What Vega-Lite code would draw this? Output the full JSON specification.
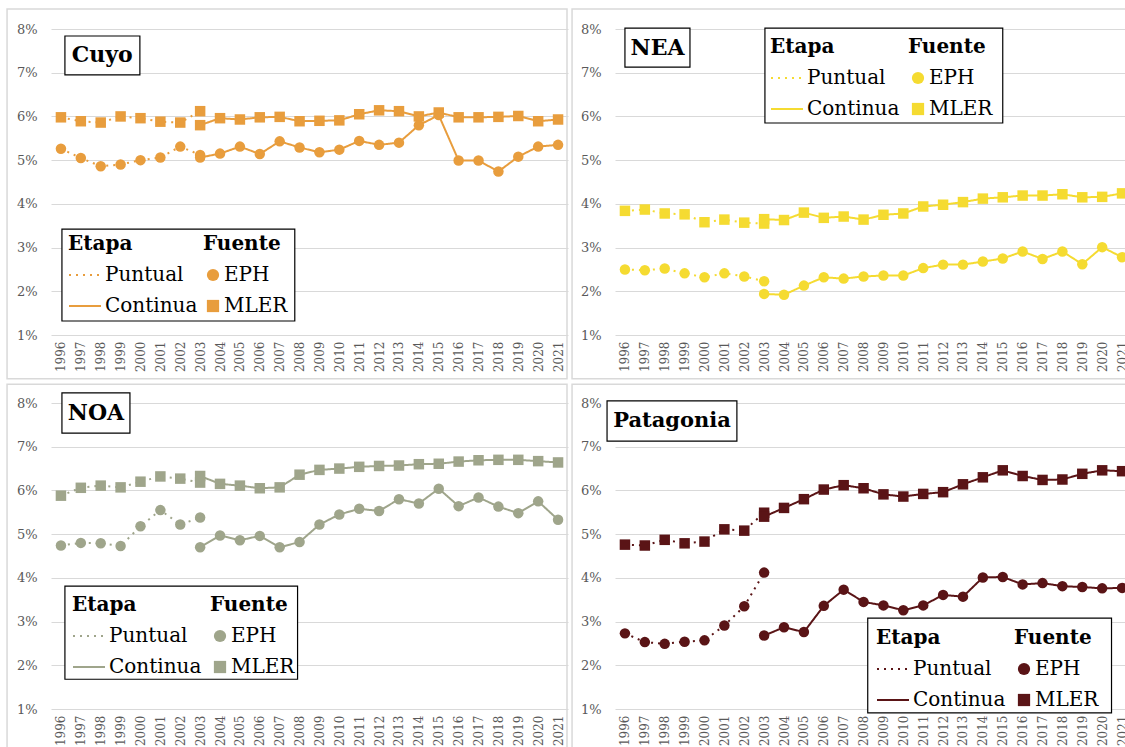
{
"$schema": "https://vega.github.io/schema/vega-lite/v6.json",
"background": "white",
"padding": {"left": 6, "top": 8, "right": 0, "bottom": 0},
"datasets": {"d": [
{"region":"Cuyo","fuente":"MLER","etapa":"Puntual","year":1996,"value":5.98},
{"region":"Cuyo","fuente":"MLER","etapa":"Puntual","year":1997,"value":5.89},
{"region":"Cuyo","fuente":"MLER","etapa":"Puntual","year":1998,"value":5.86},
{"region":"Cuyo","fuente":"MLER","etapa":"Puntual","year":1999,"value":6.00},
{"region":"Cuyo","fuente":"MLER","etapa":"Puntual","year":2000,"value":5.96},
{"region":"Cuyo","fuente":"MLER","etapa":"Puntual","year":2001,"value":5.88},
{"region":"Cuyo","fuente":"MLER","etapa":"Puntual","year":2002,"value":5.86},
{"region":"Cuyo","fuente":"MLER","etapa":"Puntual","year":2003,"value":6.12},
{"region":"Cuyo","fuente":"MLER","etapa":"Continua","year":2003,"value":5.80},
{"region":"Cuyo","fuente":"MLER","etapa":"Continua","year":2004,"value":5.96},
{"region":"Cuyo","fuente":"MLER","etapa":"Continua","year":2005,"value":5.93},
{"region":"Cuyo","fuente":"MLER","etapa":"Continua","year":2006,"value":5.98},
{"region":"Cuyo","fuente":"MLER","etapa":"Continua","year":2007,"value":5.99},
{"region":"Cuyo","fuente":"MLER","etapa":"Continua","year":2008,"value":5.89},
{"region":"Cuyo","fuente":"MLER","etapa":"Continua","year":2009,"value":5.90},
{"region":"Cuyo","fuente":"MLER","etapa":"Continua","year":2010,"value":5.91},
{"region":"Cuyo","fuente":"MLER","etapa":"Continua","year":2011,"value":6.05},
{"region":"Cuyo","fuente":"MLER","etapa":"Continua","year":2012,"value":6.14},
{"region":"Cuyo","fuente":"MLER","etapa":"Continua","year":2013,"value":6.12},
{"region":"Cuyo","fuente":"MLER","etapa":"Continua","year":2014,"value":6.00},
{"region":"Cuyo","fuente":"MLER","etapa":"Continua","year":2015,"value":6.09},
{"region":"Cuyo","fuente":"MLER","etapa":"Continua","year":2016,"value":5.98},
{"region":"Cuyo","fuente":"MLER","etapa":"Continua","year":2017,"value":5.98},
{"region":"Cuyo","fuente":"MLER","etapa":"Continua","year":2018,"value":5.99},
{"region":"Cuyo","fuente":"MLER","etapa":"Continua","year":2019,"value":6.01},
{"region":"Cuyo","fuente":"MLER","etapa":"Continua","year":2020,"value":5.89},
{"region":"Cuyo","fuente":"MLER","etapa":"Continua","year":2021,"value":5.93},
{"region":"Cuyo","fuente":"EPH","etapa":"Puntual","year":1996,"value":5.26},
{"region":"Cuyo","fuente":"EPH","etapa":"Puntual","year":1997,"value":5.05},
{"region":"Cuyo","fuente":"EPH","etapa":"Puntual","year":1998,"value":4.86},
{"region":"Cuyo","fuente":"EPH","etapa":"Puntual","year":1999,"value":4.90},
{"region":"Cuyo","fuente":"EPH","etapa":"Puntual","year":2000,"value":5.00},
{"region":"Cuyo","fuente":"EPH","etapa":"Puntual","year":2001,"value":5.06},
{"region":"Cuyo","fuente":"EPH","etapa":"Puntual","year":2002,"value":5.31},
{"region":"Cuyo","fuente":"EPH","etapa":"Puntual","year":2003,"value":5.12},
{"region":"Cuyo","fuente":"EPH","etapa":"Continua","year":2003,"value":5.06},
{"region":"Cuyo","fuente":"EPH","etapa":"Continua","year":2004,"value":5.15},
{"region":"Cuyo","fuente":"EPH","etapa":"Continua","year":2005,"value":5.31},
{"region":"Cuyo","fuente":"EPH","etapa":"Continua","year":2006,"value":5.14},
{"region":"Cuyo","fuente":"EPH","etapa":"Continua","year":2007,"value":5.43},
{"region":"Cuyo","fuente":"EPH","etapa":"Continua","year":2008,"value":5.29},
{"region":"Cuyo","fuente":"EPH","etapa":"Continua","year":2009,"value":5.18},
{"region":"Cuyo","fuente":"EPH","etapa":"Continua","year":2010,"value":5.24},
{"region":"Cuyo","fuente":"EPH","etapa":"Continua","year":2011,"value":5.44},
{"region":"Cuyo","fuente":"EPH","etapa":"Continua","year":2012,"value":5.35},
{"region":"Cuyo","fuente":"EPH","etapa":"Continua","year":2013,"value":5.40},
{"region":"Cuyo","fuente":"EPH","etapa":"Continua","year":2014,"value":5.80},
{"region":"Cuyo","fuente":"EPH","etapa":"Continua","year":2015,"value":6.03},
{"region":"Cuyo","fuente":"EPH","etapa":"Continua","year":2016,"value":4.99},
{"region":"Cuyo","fuente":"EPH","etapa":"Continua","year":2017,"value":4.99},
{"region":"Cuyo","fuente":"EPH","etapa":"Continua","year":2018,"value":4.74},
{"region":"Cuyo","fuente":"EPH","etapa":"Continua","year":2019,"value":5.08},
{"region":"Cuyo","fuente":"EPH","etapa":"Continua","year":2020,"value":5.31},
{"region":"Cuyo","fuente":"EPH","etapa":"Continua","year":2021,"value":5.35},
{"region":"NEA","fuente":"MLER","etapa":"Puntual","year":1996,"value":3.84},
{"region":"NEA","fuente":"MLER","etapa":"Puntual","year":1997,"value":3.87},
{"region":"NEA","fuente":"MLER","etapa":"Puntual","year":1998,"value":3.78},
{"region":"NEA","fuente":"MLER","etapa":"Puntual","year":1999,"value":3.76},
{"region":"NEA","fuente":"MLER","etapa":"Puntual","year":2000,"value":3.58},
{"region":"NEA","fuente":"MLER","etapa":"Puntual","year":2001,"value":3.64},
{"region":"NEA","fuente":"MLER","etapa":"Puntual","year":2002,"value":3.57},
{"region":"NEA","fuente":"MLER","etapa":"Puntual","year":2003,"value":3.55},
{"region":"NEA","fuente":"MLER","etapa":"Continua","year":2003,"value":3.65},
{"region":"NEA","fuente":"MLER","etapa":"Continua","year":2004,"value":3.63},
{"region":"NEA","fuente":"MLER","etapa":"Continua","year":2005,"value":3.80},
{"region":"NEA","fuente":"MLER","etapa":"Continua","year":2006,"value":3.68},
{"region":"NEA","fuente":"MLER","etapa":"Continua","year":2007,"value":3.71},
{"region":"NEA","fuente":"MLER","etapa":"Continua","year":2008,"value":3.64},
{"region":"NEA","fuente":"MLER","etapa":"Continua","year":2009,"value":3.75},
{"region":"NEA","fuente":"MLER","etapa":"Continua","year":2010,"value":3.78},
{"region":"NEA","fuente":"MLER","etapa":"Continua","year":2011,"value":3.94},
{"region":"NEA","fuente":"MLER","etapa":"Continua","year":2012,"value":3.98},
{"region":"NEA","fuente":"MLER","etapa":"Continua","year":2013,"value":4.04},
{"region":"NEA","fuente":"MLER","etapa":"Continua","year":2014,"value":4.12},
{"region":"NEA","fuente":"MLER","etapa":"Continua","year":2015,"value":4.15},
{"region":"NEA","fuente":"MLER","etapa":"Continua","year":2016,"value":4.19},
{"region":"NEA","fuente":"MLER","etapa":"Continua","year":2017,"value":4.19},
{"region":"NEA","fuente":"MLER","etapa":"Continua","year":2018,"value":4.22},
{"region":"NEA","fuente":"MLER","etapa":"Continua","year":2019,"value":4.15},
{"region":"NEA","fuente":"MLER","etapa":"Continua","year":2020,"value":4.16},
{"region":"NEA","fuente":"MLER","etapa":"Continua","year":2021,"value":4.24},
{"region":"NEA","fuente":"EPH","etapa":"Puntual","year":1996,"value":2.50},
{"region":"NEA","fuente":"EPH","etapa":"Puntual","year":1997,"value":2.48},
{"region":"NEA","fuente":"EPH","etapa":"Puntual","year":1998,"value":2.52},
{"region":"NEA","fuente":"EPH","etapa":"Puntual","year":1999,"value":2.41},
{"region":"NEA","fuente":"EPH","etapa":"Puntual","year":2000,"value":2.32},
{"region":"NEA","fuente":"EPH","etapa":"Puntual","year":2001,"value":2.41},
{"region":"NEA","fuente":"EPH","etapa":"Puntual","year":2002,"value":2.34},
{"region":"NEA","fuente":"EPH","etapa":"Puntual","year":2003,"value":2.23},
{"region":"NEA","fuente":"EPH","etapa":"Continua","year":2003,"value":1.94},
{"region":"NEA","fuente":"EPH","etapa":"Continua","year":2004,"value":1.92},
{"region":"NEA","fuente":"EPH","etapa":"Continua","year":2005,"value":2.13},
{"region":"NEA","fuente":"EPH","etapa":"Continua","year":2006,"value":2.32},
{"region":"NEA","fuente":"EPH","etapa":"Continua","year":2007,"value":2.29},
{"region":"NEA","fuente":"EPH","etapa":"Continua","year":2008,"value":2.34},
{"region":"NEA","fuente":"EPH","etapa":"Continua","year":2009,"value":2.36},
{"region":"NEA","fuente":"EPH","etapa":"Continua","year":2010,"value":2.36},
{"region":"NEA","fuente":"EPH","etapa":"Continua","year":2011,"value":2.53},
{"region":"NEA","fuente":"EPH","etapa":"Continua","year":2012,"value":2.61},
{"region":"NEA","fuente":"EPH","etapa":"Continua","year":2013,"value":2.61},
{"region":"NEA","fuente":"EPH","etapa":"Continua","year":2014,"value":2.68},
{"region":"NEA","fuente":"EPH","etapa":"Continua","year":2015,"value":2.75},
{"region":"NEA","fuente":"EPH","etapa":"Continua","year":2016,"value":2.91},
{"region":"NEA","fuente":"EPH","etapa":"Continua","year":2017,"value":2.74},
{"region":"NEA","fuente":"EPH","etapa":"Continua","year":2018,"value":2.91},
{"region":"NEA","fuente":"EPH","etapa":"Continua","year":2019,"value":2.62},
{"region":"NEA","fuente":"EPH","etapa":"Continua","year":2020,"value":3.01},
{"region":"NEA","fuente":"EPH","etapa":"Continua","year":2021,"value":2.78},
{"region":"NOA","fuente":"MLER","etapa":"Puntual","year":1996,"value":5.88},
{"region":"NOA","fuente":"MLER","etapa":"Puntual","year":1997,"value":6.06},
{"region":"NOA","fuente":"MLER","etapa":"Puntual","year":1998,"value":6.11},
{"region":"NOA","fuente":"MLER","etapa":"Puntual","year":1999,"value":6.07},
{"region":"NOA","fuente":"MLER","etapa":"Puntual","year":2000,"value":6.20},
{"region":"NOA","fuente":"MLER","etapa":"Puntual","year":2001,"value":6.32},
{"region":"NOA","fuente":"MLER","etapa":"Puntual","year":2002,"value":6.27},
{"region":"NOA","fuente":"MLER","etapa":"Puntual","year":2003,"value":6.18},
{"region":"NOA","fuente":"MLER","etapa":"Continua","year":2003,"value":6.33},
{"region":"NOA","fuente":"MLER","etapa":"Continua","year":2004,"value":6.15},
{"region":"NOA","fuente":"MLER","etapa":"Continua","year":2005,"value":6.11},
{"region":"NOA","fuente":"MLER","etapa":"Continua","year":2006,"value":6.05},
{"region":"NOA","fuente":"MLER","etapa":"Continua","year":2007,"value":6.07},
{"region":"NOA","fuente":"MLER","etapa":"Continua","year":2008,"value":6.36},
{"region":"NOA","fuente":"MLER","etapa":"Continua","year":2009,"value":6.47},
{"region":"NOA","fuente":"MLER","etapa":"Continua","year":2010,"value":6.50},
{"region":"NOA","fuente":"MLER","etapa":"Continua","year":2011,"value":6.54},
{"region":"NOA","fuente":"MLER","etapa":"Continua","year":2012,"value":6.56},
{"region":"NOA","fuente":"MLER","etapa":"Continua","year":2013,"value":6.57},
{"region":"NOA","fuente":"MLER","etapa":"Continua","year":2014,"value":6.60},
{"region":"NOA","fuente":"MLER","etapa":"Continua","year":2015,"value":6.61},
{"region":"NOA","fuente":"MLER","etapa":"Continua","year":2016,"value":6.66},
{"region":"NOA","fuente":"MLER","etapa":"Continua","year":2017,"value":6.69},
{"region":"NOA","fuente":"MLER","etapa":"Continua","year":2018,"value":6.70},
{"region":"NOA","fuente":"MLER","etapa":"Continua","year":2019,"value":6.70},
{"region":"NOA","fuente":"MLER","etapa":"Continua","year":2020,"value":6.67},
{"region":"NOA","fuente":"MLER","etapa":"Continua","year":2021,"value":6.64},
{"region":"NOA","fuente":"EPH","etapa":"Puntual","year":1996,"value":4.74},
{"region":"NOA","fuente":"EPH","etapa":"Puntual","year":1997,"value":4.80},
{"region":"NOA","fuente":"EPH","etapa":"Puntual","year":1998,"value":4.79},
{"region":"NOA","fuente":"EPH","etapa":"Puntual","year":1999,"value":4.73},
{"region":"NOA","fuente":"EPH","etapa":"Puntual","year":2000,"value":5.18},
{"region":"NOA","fuente":"EPH","etapa":"Puntual","year":2001,"value":5.55},
{"region":"NOA","fuente":"EPH","etapa":"Puntual","year":2002,"value":5.22},
{"region":"NOA","fuente":"EPH","etapa":"Puntual","year":2003,"value":5.38},
{"region":"NOA","fuente":"EPH","etapa":"Continua","year":2003,"value":4.70},
{"region":"NOA","fuente":"EPH","etapa":"Continua","year":2004,"value":4.97},
{"region":"NOA","fuente":"EPH","etapa":"Continua","year":2005,"value":4.86},
{"region":"NOA","fuente":"EPH","etapa":"Continua","year":2006,"value":4.96},
{"region":"NOA","fuente":"EPH","etapa":"Continua","year":2007,"value":4.70},
{"region":"NOA","fuente":"EPH","etapa":"Continua","year":2008,"value":4.82},
{"region":"NOA","fuente":"EPH","etapa":"Continua","year":2009,"value":5.22},
{"region":"NOA","fuente":"EPH","etapa":"Continua","year":2010,"value":5.45},
{"region":"NOA","fuente":"EPH","etapa":"Continua","year":2011,"value":5.58},
{"region":"NOA","fuente":"EPH","etapa":"Continua","year":2012,"value":5.53},
{"region":"NOA","fuente":"EPH","etapa":"Continua","year":2013,"value":5.80},
{"region":"NOA","fuente":"EPH","etapa":"Continua","year":2014,"value":5.70},
{"region":"NOA","fuente":"EPH","etapa":"Continua","year":2015,"value":6.04},
{"region":"NOA","fuente":"EPH","etapa":"Continua","year":2016,"value":5.64},
{"region":"NOA","fuente":"EPH","etapa":"Continua","year":2017,"value":5.84},
{"region":"NOA","fuente":"EPH","etapa":"Continua","year":2018,"value":5.63},
{"region":"NOA","fuente":"EPH","etapa":"Continua","year":2019,"value":5.48},
{"region":"NOA","fuente":"EPH","etapa":"Continua","year":2020,"value":5.75},
{"region":"NOA","fuente":"EPH","etapa":"Continua","year":2021,"value":5.33},
{"region":"Patagonia","fuente":"MLER","etapa":"Puntual","year":1996,"value":4.76},
{"region":"Patagonia","fuente":"MLER","etapa":"Puntual","year":1997,"value":4.74},
{"region":"Patagonia","fuente":"MLER","etapa":"Puntual","year":1998,"value":4.87},
{"region":"Patagonia","fuente":"MLER","etapa":"Puntual","year":1999,"value":4.79},
{"region":"Patagonia","fuente":"MLER","etapa":"Puntual","year":2000,"value":4.83},
{"region":"Patagonia","fuente":"MLER","etapa":"Puntual","year":2001,"value":5.11},
{"region":"Patagonia","fuente":"MLER","etapa":"Puntual","year":2002,"value":5.08},
{"region":"Patagonia","fuente":"MLER","etapa":"Puntual","year":2003,"value":5.49},
{"region":"Patagonia","fuente":"MLER","etapa":"Continua","year":2003,"value":5.40},
{"region":"Patagonia","fuente":"MLER","etapa":"Continua","year":2004,"value":5.60},
{"region":"Patagonia","fuente":"MLER","etapa":"Continua","year":2005,"value":5.80},
{"region":"Patagonia","fuente":"MLER","etapa":"Continua","year":2006,"value":6.02},
{"region":"Patagonia","fuente":"MLER","etapa":"Continua","year":2007,"value":6.12},
{"region":"Patagonia","fuente":"MLER","etapa":"Continua","year":2008,"value":6.05},
{"region":"Patagonia","fuente":"MLER","etapa":"Continua","year":2009,"value":5.91},
{"region":"Patagonia","fuente":"MLER","etapa":"Continua","year":2010,"value":5.86},
{"region":"Patagonia","fuente":"MLER","etapa":"Continua","year":2011,"value":5.92},
{"region":"Patagonia","fuente":"MLER","etapa":"Continua","year":2012,"value":5.96},
{"region":"Patagonia","fuente":"MLER","etapa":"Continua","year":2013,"value":6.14},
{"region":"Patagonia","fuente":"MLER","etapa":"Continua","year":2014,"value":6.30},
{"region":"Patagonia","fuente":"MLER","etapa":"Continua","year":2015,"value":6.46},
{"region":"Patagonia","fuente":"MLER","etapa":"Continua","year":2016,"value":6.33},
{"region":"Patagonia","fuente":"MLER","etapa":"Continua","year":2017,"value":6.24},
{"region":"Patagonia","fuente":"MLER","etapa":"Continua","year":2018,"value":6.25},
{"region":"Patagonia","fuente":"MLER","etapa":"Continua","year":2019,"value":6.38},
{"region":"Patagonia","fuente":"MLER","etapa":"Continua","year":2020,"value":6.46},
{"region":"Patagonia","fuente":"MLER","etapa":"Continua","year":2021,"value":6.44},
{"region":"Patagonia","fuente":"EPH","etapa":"Puntual","year":1996,"value":2.73},
{"region":"Patagonia","fuente":"EPH","etapa":"Puntual","year":1997,"value":2.53},
{"region":"Patagonia","fuente":"EPH","etapa":"Puntual","year":1998,"value":2.49},
{"region":"Patagonia","fuente":"EPH","etapa":"Puntual","year":1999,"value":2.54},
{"region":"Patagonia","fuente":"EPH","etapa":"Puntual","year":2000,"value":2.57},
{"region":"Patagonia","fuente":"EPH","etapa":"Puntual","year":2001,"value":2.91},
{"region":"Patagonia","fuente":"EPH","etapa":"Puntual","year":2002,"value":3.35},
{"region":"Patagonia","fuente":"EPH","etapa":"Puntual","year":2003,"value":4.12},
{"region":"Patagonia","fuente":"EPH","etapa":"Continua","year":2003,"value":2.68},
{"region":"Patagonia","fuente":"EPH","etapa":"Continua","year":2004,"value":2.87},
{"region":"Patagonia","fuente":"EPH","etapa":"Continua","year":2005,"value":2.76},
{"region":"Patagonia","fuente":"EPH","etapa":"Continua","year":2006,"value":3.36},
{"region":"Patagonia","fuente":"EPH","etapa":"Continua","year":2007,"value":3.73},
{"region":"Patagonia","fuente":"EPH","etapa":"Continua","year":2008,"value":3.45},
{"region":"Patagonia","fuente":"EPH","etapa":"Continua","year":2009,"value":3.37},
{"region":"Patagonia","fuente":"EPH","etapa":"Continua","year":2010,"value":3.26},
{"region":"Patagonia","fuente":"EPH","etapa":"Continua","year":2011,"value":3.37},
{"region":"Patagonia","fuente":"EPH","etapa":"Continua","year":2012,"value":3.61},
{"region":"Patagonia","fuente":"EPH","etapa":"Continua","year":2013,"value":3.57},
{"region":"Patagonia","fuente":"EPH","etapa":"Continua","year":2014,"value":4.01},
{"region":"Patagonia","fuente":"EPH","etapa":"Continua","year":2015,"value":4.02},
{"region":"Patagonia","fuente":"EPH","etapa":"Continua","year":2016,"value":3.85},
{"region":"Patagonia","fuente":"EPH","etapa":"Continua","year":2017,"value":3.88},
{"region":"Patagonia","fuente":"EPH","etapa":"Continua","year":2018,"value":3.81},
{"region":"Patagonia","fuente":"EPH","etapa":"Continua","year":2019,"value":3.79},
{"region":"Patagonia","fuente":"EPH","etapa":"Continua","year":2020,"value":3.76},
{"region":"Patagonia","fuente":"EPH","etapa":"Continua","year":2021,"value":3.77}
]},
"columns": 2,
"bounds": "flush",
"spacing": {"row": 68, "column": 47},
"resolve": {"scale": {"shape": "independent", "strokeDash": "independent"}, "legend": {"shape": "independent", "strokeDash": "independent"}},
"concat": [
{
"width": 517, "height": 306,
"layer": [
{"data": {"values": [{}]}, "mark": {"type": "rect", "fill": null, "stroke": "#d9d9d9", "strokeWidth": 1.5},
 "encoding": {"x": {"datum": 1993.29, "type": "quantitative", "title": null, "scale": {"domain": [1995.5, 2021.5], "nice": false, "zero": false}}, "x2": {"datum": 2021.45}, "y": {"datum": 8.46, "type": "quantitative", "title": null, "scale": {"domain": [1, 8], "nice": false, "zero": false}}, "y2": {"datum": 0.0}}},
{"data": {"values": [{}]}, "mark": {"type": "rect", "fill": "white", "stroke": "black", "strokeWidth": 1.2},
 "encoding": {"x": {"datum": 1996.05, "type": "quantitative", "title": null}, "x2": {"datum": 2007.76}, "y": {"datum": 3.42, "type": "quantitative", "title": null}, "y2": {"datum": 1.32}}},
{"data": {"name": "d"}, "transform": [{"filter": "datum.region === 'Cuyo'"}],
 "layer": [
  {"mark": {"type": "line", "color": "#E89D3D", "strokeWidth": 2},
   "encoding": {
    "x": {"field": "year", "type": "quantitative", "title": null},
    "y": {"field": "value", "type": "quantitative", "title": null},
    "detail": {"field": "fuente"},
    "strokeDash": {"field": "etapa", "type": "nominal", "scale": {"domain": ["Puntual", "Continua"], "range": [[2, 5], [1, 0]]},
      "legend": {"title": "Etapa", "orient": "none", "legendX": 17, "legendY": 205, "symbolType": "stroke", "symbolSize": 1024, "symbolStrokeWidth": 2, "symbolStrokeColor": "#E89D3D", "rowPadding": 4, "titlePadding": 4}}}},
  {"mark": {"type": "point", "filled": true, "color": "#E89D3D", "size": 110, "opacity": 1},
   "encoding": {
    "x": {"field": "year", "type": "quantitative", "title": null},
    "y": {"field": "value", "type": "quantitative", "title": null},
    "shape": {"field": "fuente", "type": "nominal", "scale": {"domain": ["EPH", "MLER"], "range": ["circle", "square"]},
      "legend": {"title": "Fuente", "orient": "none", "legendX": 152, "legendY": 205, "symbolSize": 150, "symbolFillColor": "#E89D3D", "symbolStrokeWidth": 0, "rowPadding": 11, "titlePadding": 11, "labelOffset": 1}}}}
 ]},
{"data": {"values": [{}]}, "mark": {"type": "rect", "fill": "white", "stroke": "black", "strokeWidth": 1.2},
 "encoding": {"x": {"datum": 1996.2, "type": "quantitative", "title": null}, "x2": {"datum": 1999.97}, "y": {"datum": 7.84, "type": "quantitative", "title": null}, "y2": {"datum": 6.95}}},
{"data": {"values": [{}]}, "mark": {"type": "text", "text": "Cuyo", "font": "DejaVu Serif", "fontSize": 22, "fontWeight": "bold", "color": "black", "align": "center", "baseline": "middle"},
 "encoding": {"x": {"datum": 1998.08, "type": "quantitative", "title": null}, "y": {"datum": 7.40, "type": "quantitative", "title": null}}}
]
},
{
"width": 517, "height": 306,
"layer": [
{"data": {"values": [{}]}, "mark": {"type": "rect", "fill": null, "stroke": "#d9d9d9", "strokeWidth": 1.5},
 "encoding": {"x": {"datum": 1993.34, "type": "quantitative", "title": null, "scale": {"domain": [1995.5, 2021.5], "nice": false, "zero": false}}, "x2": {"datum": 2023.0}, "y": {"datum": 8.46, "type": "quantitative", "title": null, "scale": {"domain": [1, 8], "nice": false, "zero": false}}, "y2": {"datum": 0.0}}},
{"data": {"values": [{}]}, "mark": {"type": "rect", "fill": "white", "stroke": "black", "strokeWidth": 1.2},
 "encoding": {"x": {"datum": 2003.04, "type": "quantitative", "title": null}, "x2": {"datum": 2015.0}, "y": {"datum": 8.02, "type": "quantitative", "title": null}, "y2": {"datum": 5.85}}},
{"data": {"name": "d"}, "transform": [{"filter": "datum.region === 'NEA'"}],
 "layer": [
  {"mark": {"type": "line", "color": "#F5DB31", "strokeWidth": 2},
   "encoding": {
    "x": {"field": "year", "type": "quantitative", "title": null},
    "y": {"field": "value", "type": "quantitative", "title": null},
    "detail": {"field": "fuente"},
    "strokeDash": {"field": "etapa", "type": "nominal", "scale": {"domain": ["Puntual", "Continua"], "range": [[2, 5], [1, 0]]},
      "legend": {"title": "Etapa", "orient": "none", "legendX": 155, "legendY": 8, "symbolType": "stroke", "symbolSize": 1024, "symbolStrokeWidth": 2, "symbolStrokeColor": "#F5DB31", "rowPadding": 4, "titlePadding": 4}}}},
  {"mark": {"type": "point", "filled": true, "color": "#F5DB31", "size": 110, "opacity": 1},
   "encoding": {
    "x": {"field": "year", "type": "quantitative", "title": null},
    "y": {"field": "value", "type": "quantitative", "title": null},
    "shape": {"field": "fuente", "type": "nominal", "scale": {"domain": ["EPH", "MLER"], "range": ["circle", "square"]},
      "legend": {"title": "Fuente", "orient": "none", "legendX": 293, "legendY": 8, "symbolSize": 150, "symbolFillColor": "#F5DB31", "symbolStrokeWidth": 0, "rowPadding": 11, "titlePadding": 11, "labelOffset": 1}}}}
 ]},
{"data": {"values": [{}]}, "mark": {"type": "rect", "fill": "white", "stroke": "black", "strokeWidth": 1.2},
 "encoding": {"x": {"datum": 1996.0, "type": "quantitative", "title": null}, "x2": {"datum": 1999.27}, "y": {"datum": 8.02, "type": "quantitative", "title": null}, "y2": {"datum": 7.13}}},
{"data": {"values": [{}]}, "mark": {"type": "text", "text": "NEA", "font": "DejaVu Serif", "fontSize": 22, "fontWeight": "bold", "color": "black", "align": "center", "baseline": "middle"},
 "encoding": {"x": {"datum": 1997.64, "type": "quantitative", "title": null}, "y": {"datum": 7.57, "type": "quantitative", "title": null}}}
]
},
{
"width": 517, "height": 306,
"layer": [
{"data": {"values": [{}]}, "mark": {"type": "rect", "fill": null, "stroke": "#d9d9d9", "strokeWidth": 1.5},
 "encoding": {"x": {"datum": 1993.29, "type": "quantitative", "title": null, "scale": {"domain": [1995.5, 2021.5], "nice": false, "zero": false}}, "x2": {"datum": 2021.45}, "y": {"datum": 8.43, "type": "quantitative", "title": null, "scale": {"domain": [1, 8], "nice": false, "zero": false}}, "y2": {"datum": -0.2}}},
{"data": {"values": [{}]}, "mark": {"type": "rect", "fill": "white", "stroke": "black", "strokeWidth": 1.2},
 "encoding": {"x": {"datum": 1996.2, "type": "quantitative", "title": null}, "x2": {"datum": 2007.9}, "y": {"datum": 3.81, "type": "quantitative", "title": null}, "y2": {"datum": 1.68}}},
{"data": {"name": "d"}, "transform": [{"filter": "datum.region === 'NOA'"}],
 "layer": [
  {"mark": {"type": "line", "color": "#9FA58B", "strokeWidth": 2},
   "encoding": {
    "x": {"field": "year", "type": "quantitative", "title": null},
    "y": {"field": "value", "type": "quantitative", "title": null},
    "detail": {"field": "fuente"},
    "strokeDash": {"field": "etapa", "type": "nominal", "scale": {"domain": ["Puntual", "Continua"], "range": [[2, 5], [1, 0]]},
      "legend": {"title": "Etapa", "orient": "none", "legendX": 21, "legendY": 192, "symbolType": "stroke", "symbolSize": 1024, "symbolStrokeWidth": 2, "symbolStrokeColor": "#9FA58B", "rowPadding": 4, "titlePadding": 4}}}},
  {"mark": {"type": "point", "filled": true, "color": "#9FA58B", "size": 110, "opacity": 1},
   "encoding": {
    "x": {"field": "year", "type": "quantitative", "title": null},
    "y": {"field": "value", "type": "quantitative", "title": null},
    "shape": {"field": "fuente", "type": "nominal", "scale": {"domain": ["EPH", "MLER"], "range": ["circle", "square"]},
      "legend": {"title": "Fuente", "orient": "none", "legendX": 159, "legendY": 192, "symbolSize": 150, "symbolFillColor": "#9FA58B", "symbolStrokeWidth": 0, "rowPadding": 11, "titlePadding": 11, "labelOffset": 1}}}}
 ]},
{"data": {"values": [{}]}, "mark": {"type": "rect", "fill": "white", "stroke": "black", "strokeWidth": 1.2},
 "encoding": {"x": {"datum": 1996.05, "type": "quantitative", "title": null}, "x2": {"datum": 1999.47}, "y": {"datum": 8.23, "type": "quantitative", "title": null}, "y2": {"datum": 7.31}}},
{"data": {"values": [{}]}, "mark": {"type": "text", "text": "NOA", "font": "DejaVu Serif", "fontSize": 22, "fontWeight": "bold", "color": "black", "align": "center", "baseline": "middle"},
 "encoding": {"x": {"datum": 1997.76, "type": "quantitative", "title": null}, "y": {"datum": 7.77, "type": "quantitative", "title": null}}}
]
},
{
"width": 517, "height": 306,
"layer": [
{"data": {"values": [{}]}, "mark": {"type": "rect", "fill": null, "stroke": "#d9d9d9", "strokeWidth": 1.5},
 "encoding": {"x": {"datum": 1993.34, "type": "quantitative", "title": null, "scale": {"domain": [1995.5, 2021.5], "nice": false, "zero": false}}, "x2": {"datum": 2023.0}, "y": {"datum": 8.43, "type": "quantitative", "title": null, "scale": {"domain": [1, 8], "nice": false, "zero": false}}, "y2": {"datum": -0.2}}},
{"data": {"values": [{}]}, "mark": {"type": "rect", "fill": "white", "stroke": "black", "strokeWidth": 1.2},
 "encoding": {"x": {"datum": 2008.21, "type": "quantitative", "title": null}, "x2": {"datum": 2020.47}, "y": {"datum": 3.08, "type": "quantitative", "title": null}, "y2": {"datum": 0.91}}},
{"data": {"name": "d"}, "transform": [{"filter": "datum.region === 'Patagonia'"}],
 "layer": [
  {"mark": {"type": "line", "color": "#5A1416", "strokeWidth": 2},
   "encoding": {
    "x": {"field": "year", "type": "quantitative", "title": null},
    "y": {"field": "value", "type": "quantitative", "title": null},
    "detail": {"field": "fuente"},
    "strokeDash": {"field": "etapa", "type": "nominal", "scale": {"domain": ["Puntual", "Continua"], "range": [[2, 5], [1, 0]]},
      "legend": {"title": "Etapa", "orient": "none", "legendX": 261, "legendY": 225, "symbolType": "stroke", "symbolSize": 1024, "symbolStrokeWidth": 2, "symbolStrokeColor": "#5A1416", "rowPadding": 4, "titlePadding": 4}}}},
  {"mark": {"type": "point", "filled": true, "color": "#5A1416", "size": 110, "opacity": 1},
   "encoding": {
    "x": {"field": "year", "type": "quantitative", "title": null},
    "y": {"field": "value", "type": "quantitative", "title": null},
    "shape": {"field": "fuente", "type": "nominal", "scale": {"domain": ["EPH", "MLER"], "range": ["circle", "square"]},
      "legend": {"title": "Fuente", "orient": "none", "legendX": 399, "legendY": 225, "symbolSize": 150, "symbolFillColor": "#5A1416", "symbolStrokeWidth": 0, "rowPadding": 11, "titlePadding": 11, "labelOffset": 1}}}}
 ]},
{"data": {"values": [{}]}, "mark": {"type": "rect", "fill": "white", "stroke": "black", "strokeWidth": 1.2},
 "encoding": {"x": {"datum": 1995.1, "type": "quantitative", "title": null}, "x2": {"datum": 2001.63}, "y": {"datum": 8.05, "type": "quantitative", "title": null}, "y2": {"datum": 7.13}}},
{"data": {"values": [{}]}, "mark": {"type": "text", "text": "Patagonia", "font": "DejaVu Serif", "fontSize": 21, "fontWeight": "bold", "color": "black", "align": "center", "baseline": "middle"},
 "encoding": {"x": {"datum": 1998.37, "type": "quantitative", "title": null}, "y": {"datum": 7.59, "type": "quantitative", "title": null}}}
]
}
],
"config": {
 "view": {"stroke": null},
 "font": "DejaVu Serif",
 "axis": {"domain": false, "ticks": false, "tickSize": 0, "labelFont": "DejaVu Serif", "labelColor": "#595959", "gridColor": "#d9d9d9", "gridWidth": 1, "labelFlush": false, "labelOverlap": false, "labelBound": false, "labelSeparation": 0},
 "axisX": {"grid": false, "labelAngle": -90, "labelFontSize": 12, "labelPadding": 6, "tickCount": 26, "tickMinStep": 1, "format": "d"},
 "axisY": {"grid": true, "labelFontSize": 13, "labelPadding": 14, "tickCount": 7, "labelExpr": "datum.value + '%'"}
,
 "legend": {"padding": 0, "titleFont": "DejaVu Serif", "titleFontSize": 20, "titleFontWeight": "bold", "titleColor": "black", "labelFont": "DejaVu Serif", "labelFontSize": 20, "labelColor": "black", "labelOffset": 3}
}
}
